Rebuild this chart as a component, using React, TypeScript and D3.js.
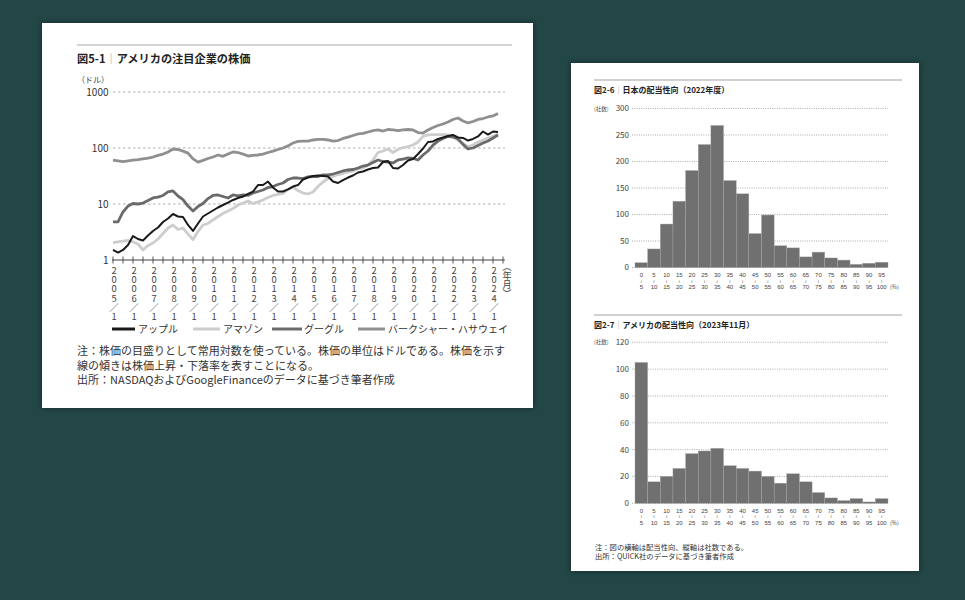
import React from "react";
import * as d3 from "d3";

const FONT = '"Noto Sans CJK JP", "Noto Sans", sans-serif';
const NUM_FONT = '"Liberation Sans", "DejaVu Sans", sans-serif';

// quarterly sample dates, 2005/1 .. 2024/4
const QUARTERS = d3.range(78).map((i) => 2005 + i * 0.25);

// share prices in dollars (split adjusted)
const APPLE = [
  1.51, 1.36, 1.51, 1.85, 2.68, 2.37, 2.23, 2.74, 3.3, 3.81, 4.77, 5.51, 6.63,
  5.98, 5.86, 4.22, 3.3, 4.49, 5.98, 6.77, 7.65, 8.66, 9.6, 10.6, 11.8, 12.8,
  13.6, 15.1, 16.7, 21.8, 21.8, 25.2, 19.7, 16.7, 16.7, 18.2, 20.5, 21.8, 27.4,
  29.7, 31.6, 32.3, 31.6, 31.0, 25.2, 23.7, 26.8, 29.7, 32.3, 36.5, 38.1, 41.3,
  43.9, 44.9, 56.2, 58.6, 43.9, 43.0, 49.7, 59.8, 63.6, 78.1, 98.0, 128, 131,
  145, 154, 164, 171, 154, 151, 136, 145, 161, 197, 174, 197, 193,
];
const AMAZON = [
  2.05, 2.1, 2.18, 2.23, 2.1, 1.93, 1.51, 1.82, 2.01, 2.37, 2.97, 3.73, 4.22,
  3.5, 3.73, 2.91, 2.32, 3.23, 4.22, 4.49, 5.18, 5.98, 6.77, 7.5, 8.31, 9.6,
  10.4, 11.3, 10.2, 10.9, 11.8, 13.1, 14.2, 14.8, 15.4, 18.2, 20.1, 17.4, 15.7,
  15.1, 16.4, 20.5, 24.7, 28.5, 31.0, 33.6, 35.0, 37.3, 38.9, 42.2, 43.9, 49.7,
  61.1, 83.1, 88.4, 96.0, 83.1, 94.0, 102, 106, 113, 128, 161, 171, 174, 174,
  174, 171, 161, 139, 120, 106, 113, 128, 139, 151, 161, 178,
];
const GOOGLE = [
  4.8, 4.8, 7.2, 9.2, 10.2, 10.0, 10.4, 11.5, 12.8, 13.3, 14.2, 16.4, 17.1,
  13.9, 12.0, 9.2, 7.5, 9.0, 10.2, 12.5, 14.2, 14.5, 13.6, 12.8, 14.5, 13.9,
  14.5, 14.2, 15.7, 16.7, 17.8, 19.7, 20.5, 22.3, 23.7, 27.4, 29.1, 29.1, 28.5,
  30.4, 31.0, 31.0, 33.0, 33.0, 34.3, 36.5, 38.9, 40.5, 41.3, 43.9, 47.7, 49.7,
  55.1, 61.1, 57.4, 56.2, 54.0, 61.1, 63.6, 66.3, 64.9, 61.1, 75.0, 88.4, 113,
  133, 148, 161, 157, 145, 116, 96, 100, 111, 123, 133, 151, 171,
];
const BERKSHIRE = [
  61, 59, 57, 59, 61, 62, 64, 66, 69, 74, 78, 85, 96, 94, 88, 81, 64, 56, 60,
  65, 69, 75, 71, 78, 85, 83, 78, 72, 74, 75, 78, 83, 88, 94, 100, 109, 123,
  131, 133, 133, 139, 142, 142, 139, 133, 136, 148, 157, 167, 178, 182, 193,
  205, 210, 201, 214, 210, 205, 210, 214, 210, 189, 185, 210, 232, 252, 268,
  291, 323, 343, 304, 280, 297, 323, 336, 358, 373, 413,
];
const SERIES_NAMES = ["アップル", "アマゾン", "グーグル", "バークシャー・ハサウェイ"];
const SERIES_COLORS = ["#1a1a1a", "#cdcdcd", "#6a6a6a", "#8f8f8f"];
const PRICE_TICKS = [1, 10, 100, 1000];
const YEAR_LABELS = d3.range(2005, 2025);

// dividend payout ratio histograms (number of companies per 5% bin)
const BIN_FROM = d3.range(0, 100, 5).map(String);
const BIN_TO = d3.range(5, 105, 5).map(String);
const JAPAN_COUNTS = [
  9, 35, 82, 125, 183, 232, 268, 164, 139, 64, 99, 41, 37, 20, 29, 18, 14, 6, 8,
  10,
];
const JAPAN_TICKS = [0, 50, 100, 150, 200, 250, 300];
const US_COUNTS = [
  105, 16, 20, 26, 37, 39, 41, 28, 26, 24, 20, 15, 22, 16, 8, 4, 2, 3.5, 1, 3.5,
];
const US_TICKS = [0, 20, 40, 60, 80, 100, 120];

const VERTICAL = { textOrientation: "upright" } as React.CSSProperties;

function StockChart() {
  const x = d3.scaleLinear().domain([2005, 2024.5]).range([113, 503]);
  const y = d3.scaleLog().domain([1, 1000]).range([260, 92]);
  const line = d3
    .line<number>()
    .x((_, i) => x(QUARTERS[i]))
    .y((d) => y(d));
  const series = [APPLE, AMAZON, GOOGLE, BERKSHIRE];
  const widths = [2, 2.8, 2.8, 2.8];
  const order = [3, 1, 2, 0];
  const halfYears = d3.range(2005, 2024.51, 0.5);
  const legend = [
    { x1: 112, x2: 135, tx: 138 },
    { x1: 193, x2: 220, tx: 223 },
    { x1: 272, x2: 302, tx: 304 },
    { x1: 358, x2: 385, tx: 388 },
  ];

  return (
    <g fontFamily={FONT}>
      <line x1={77} x2={512} y1={45} y2={45} stroke="#aaa" strokeWidth={1} />
      <text x={77} y={62.5} fontSize={11.2} fontWeight="bold" fill="#222">
        図5-1<tspan fill="#999" fontWeight="normal">｜</tspan>アメリカの注目企業の株価
      </text>
      <text x={77} y={83} fontSize={8} fill="#444">
        （ドル）
      </text>

      {PRICE_TICKS.map((t) => (
        <g key={t}>
          {t > 1 && (
            <line
              x1={113}
              x2={505}
              y1={y(t)}
              y2={y(t)}
              stroke="#9a9a9a"
              strokeWidth={0.8}
              strokeDasharray="2.5,2.5"
            />
          )}
          <text x={108.5} y={y(t) + 3.6} fontSize={10} fill="#333" textAnchor="end">
            {t}
          </text>
        </g>
      ))}

      <line x1={112} x2={505} y1={260} y2={260} stroke="#444" strokeWidth={1} />
      {halfYears.map((t) => (
        <line key={t} x1={x(t)} x2={x(t)} y1={256.5} y2={263.5} stroke="#444" strokeWidth={0.9} />
      ))}
      {YEAR_LABELS.map((yr) => (
        <text
          key={yr}
          x={x(yr) + 1}
          y={265.3}
          fontSize={9.35}
          fill="#444"
          writingMode="vertical-rl"
          style={VERTICAL}
        >
          {`${yr}／1`}
        </text>
      ))}
      <text x={507} y={262} fontSize={9} fill="#444" writingMode="vertical-rl" style={VERTICAL}>
        （年月）
      </text>

      {order.map((s) => (
        <path
          key={s}
          d={line(series[s]) || ""}
          fill="none"
          stroke={SERIES_COLORS[s]}
          strokeWidth={widths[s]}
          strokeLinejoin="round"
        />
      ))}

      {SERIES_NAMES.map((name, i) => (
        <g key={name}>
          <line
            x1={legend[i].x1}
            x2={legend[i].x2}
            y1={329}
            y2={329}
            stroke={SERIES_COLORS[i]}
            strokeWidth={3}
          />
          <text x={legend[i].tx} y={332.6} fontSize={10} fill="#333">
            {name}
          </text>
        </g>
      ))}

      {[
        "注：株価の目盛りとして常用対数を使っている。株価の単位はドルである。株価を示す",
        "線の傾きは株価上昇・下落率を表すことになる。",
        "出所：NASDAQおよびGoogleFinanceのデータに基づき筆者作成",
      ].map((t, i) => (
        <text key={i} x={77} y={355 + i * 14.5} fontSize={11} fill="#333">
          {t}
        </text>
      ))}
    </g>
  );
}

function Histogram({
  figNo,
  title,
  counts,
  ticks,
  ruleY,
  baseY,
  topY,
}: {
  figNo: string;
  title: string;
  counts: number[];
  ticks: number[];
  ruleY: number;
  baseY: number;
  topY: number;
}) {
  const x = d3.scaleBand().domain(BIN_FROM).range([635, 888]).paddingInner(0);
  const y = d3
    .scaleLinear()
    .domain([0, ticks[ticks.length - 1]])
    .range([baseY, topY]);

  return (
    <g fontFamily={FONT}>
      <line x1={594} x2={902} y1={ruleY} y2={ruleY} stroke="#999" strokeWidth={0.9} />
      <text x={594} y={ruleY + 12.6} fontSize={8} fontWeight="bold" fill="#222">
        {figNo}
        <tspan fill="#999" fontWeight="normal">｜</tspan>
        {title}
      </text>
      <text x={594} y={y(ticks[ticks.length - 1]) + 2} fontSize={5.5} fill="#555">
        (社数)
      </text>

      {counts.map((c, i) => (
        <rect
          key={i}
          x={x(BIN_FROM[i])}
          y={y(c)}
          width={x.bandwidth()}
          height={baseY - y(c)}
          fill="#707070"
          stroke="#a5a5a5"
          strokeWidth={0.4}
        />
      ))}

      {ticks.map((t) => (
        <g key={t}>
          <line
            x1={632}
            x2={888}
            y1={y(t)}
            y2={y(t)}
            stroke="#777"
            strokeWidth={0.6}
            strokeDasharray="1,1.3"
          />
          <text x={629} y={y(t) + 2.9} fontSize={8} fill="#444" textAnchor="end">
            {t}
          </text>
        </g>
      ))}

      {BIN_FROM.map((b, i) => {
        const cx = (x(b) as number) + x.bandwidth() / 2;
        return (
          <g key={b} fontFamily={NUM_FONT} fill="#444" textAnchor="middle">
            <text x={cx} y={baseY + 9.6} fontSize={6}>
              {b}
            </text>
            <text x={cx} y={baseY + 15} fontSize={4.6}>
              ≀
            </text>
            <text x={cx} y={baseY + 21.6} fontSize={6}>
              {BIN_TO[i]}
            </text>
          </g>
        );
      })}
      <text x={890} y={baseY + 21.3} fontSize={5.5} fill="#444">
        (%)
      </text>
    </g>
  );
}

export default function App() {
  return (
    <svg
      width={965}
      height={600}
      style={{ position: "absolute", left: 0, top: 0, background: "#234646" }}
    >
      <defs>
        <filter id="paperShadow" x="-5%" y="-5%" width="110%" height="110%">
          <feDropShadow dx={0} dy={0} stdDeviation={3} floodColor="#000" floodOpacity={0.45} />
        </filter>
      </defs>
      <rect x={0} y={0} width={965} height={600} fill="#234646" />
      <rect x={42} y={23} width={491} height={385} fill="#fff" filter="url(#paperShadow)" />
      <rect x={571} y={63} width={348} height={508} fill="#fff" filter="url(#paperShadow)" />

      <StockChart />

      <Histogram
        figNo="図2-6"
        title="日本の配当性向（2022年度）"
        counts={JAPAN_COUNTS}
        ticks={JAPAN_TICKS}
        ruleY={80}
        baseY={267.5}
        topY={108.5}
      />
      <Histogram
        figNo="図2-7"
        title="アメリカの配当性向（2023年11月）"
        counts={US_COUNTS}
        ticks={US_TICKS}
        ruleY={315}
        baseY={503.3}
        topY={342.3}
      />
      <g fontFamily={FONT} fontSize={7.3} fill="#333">
        <text x={595} y={549.6}>
          注：図の横軸は配当性向、縦軸は社数である。
        </text>
        <text x={595} y={558.6}>
          出所：QUICK社のデータに基づき筆者作成
        </text>
      </g>
    </svg>
  );
}
